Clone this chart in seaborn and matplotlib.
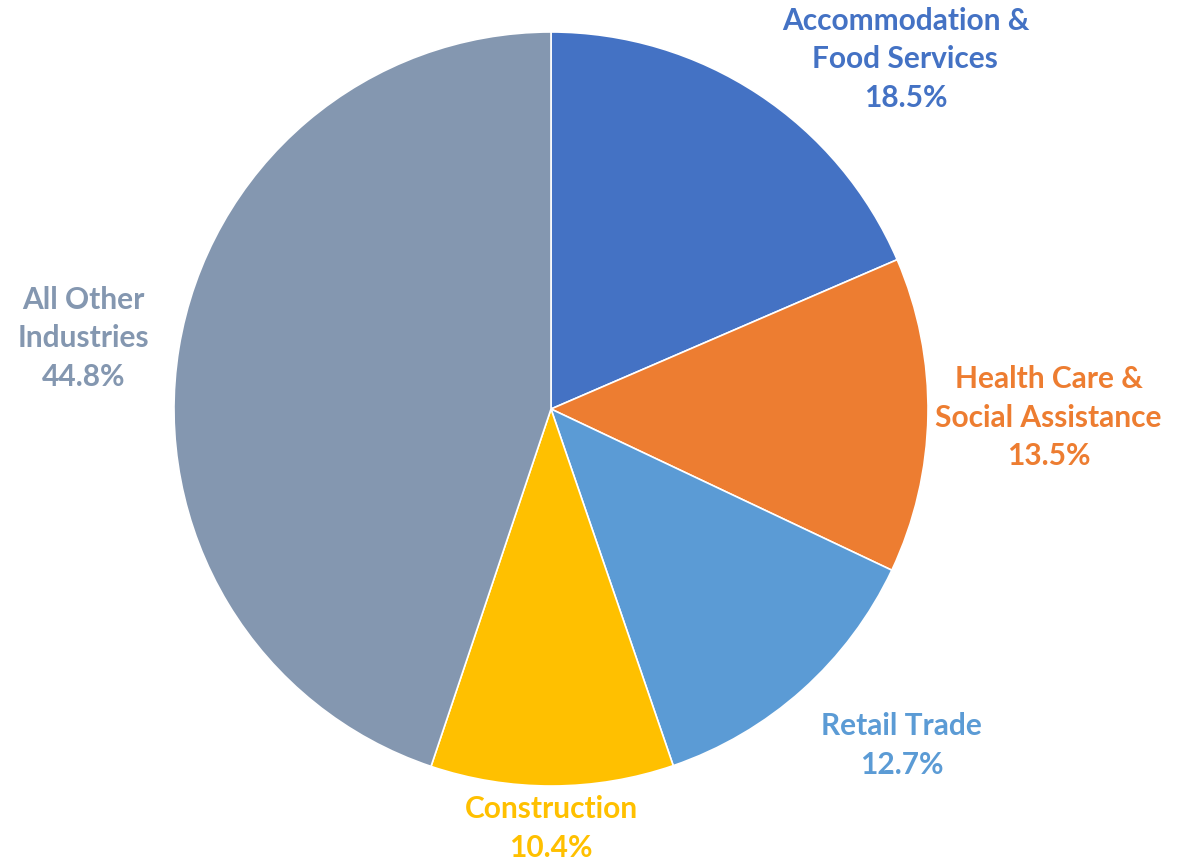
import matplotlib
matplotlib.use("Agg")
import matplotlib.pyplot as plt
import seaborn as sns

# ====================================
# DATA
# ====================================

categories = [
    "Accommodation &\nFood Services",
    "Health Care &\nSocial Assistance",
    "Retail Trade",
    "Construction",
    "All Other\nIndustries",
]
shares = [18.5, 13.5, 12.7, 10.4, 44.8]
colors = ["#4472C4", "#ED7D31", "#5B9BD5", "#FFC000", "#8497B0"]

# label positions (layout, in units of pie radius)
label_xy = [(0.94, 0.93), (1.32, -0.02), (0.93, -0.89), (0.0, -1.11), (-1.24, 0.19)]

# ====================================
# FIGURE
# ====================================

sns.set_theme(style="white")
plt.rcParams["font.family"] = ["Lato", "DejaVu Sans"]

fig = plt.figure(figsize=(11.89, 8.62), dpi=100)
ax = fig.add_axes([0, 0, 1, 1])

ax.pie(
    shares,
    colors=colors,
    startangle=90,
    counterclock=False,
    radius=1.0,
    wedgeprops={"edgecolor": "white", "linewidth": 1.2},
)

for cat, val, col, (x, y) in zip(categories, shares, colors, label_xy):
    ax.text(
        x, y,
        f"{cat}\n{val:.1f}%",
        ha="center",
        va="center",
        color=col,
        fontsize=21.5,
        fontweight="bold",
        linespacing=1.45,
    )

# centre at pixel (551, 410), radius 377 px
ax.set_xlim(-551 / 377, (1189 - 551) / 377)
ax.set_ylim((410 - 862) / 377, 410 / 377)
ax.set_aspect("auto")
ax.axis("off")

fig.savefig("out.png", dpi=100, facecolor="white")
